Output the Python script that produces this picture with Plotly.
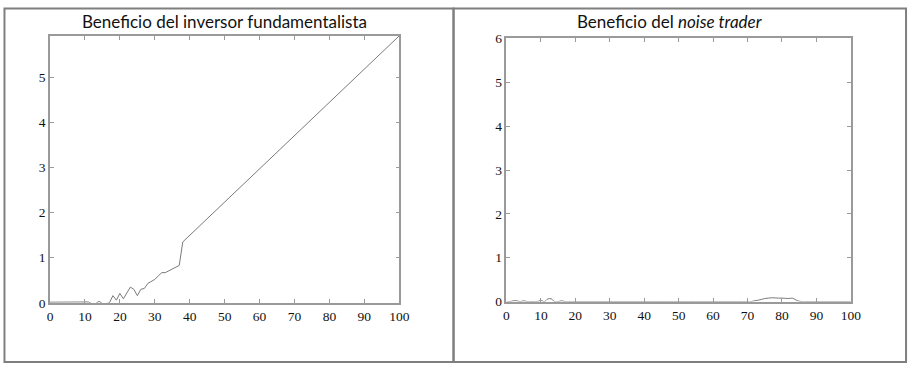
import plotly.graph_objects as go

W, H = 918, 372

# Left chart: profit of the fundamentalist investor
x_fund = list(range(0, 39)) + [100]
y_fund = [0.015, 0.015, 0.015, 0.015, 0.015, 0.015, 0.015, 0.015, 0.015, 0.015,
          0.015, 0.02, -0.02, -0.02, 0.035, -0.015, -0.015, 0.0, 0.16, 0.06,
          0.21, 0.09, 0.22, 0.35, 0.3, 0.16, 0.3, 0.32, 0.43, 0.48,
          0.52, 0.6, 0.67, 0.67, 0.71, 0.74, 0.79, 0.83, 1.35, 5.92]

# Right chart: profit of the noise trader
x_noise = [0, 1, 2, 3, 4, 5, 6, 7, 8, 9, 10, 11, 12, 13, 14, 15, 16, 17, 18,
           70, 71, 72, 73, 74, 75, 76, 77, 78, 79, 80, 81, 82, 83, 84, 85, 86, 87, 100]
y_noise = [0.0, 0.0, 0.02, 0.02, 0.0, 0.02, 0.0, 0.0, 0.0, 0.0, 0.03, 0.0, 0.06, 0.065, 0.0, 0.0, 0.02, 0.0, 0.0,
           0.0, 0.0, 0.02, 0.03, 0.05, 0.07, 0.08, 0.087, 0.085, 0.08, 0.08, 0.075, 0.07, 0.08, 0.04, 0.01, 0.0, 0.0, 0.0]

x_ticks = [0, 10, 20, 30, 40, 50, 60, 70, 80, 90, 100]
y_ticks = [0, 1, 2, 3, 4, 5, 6]

line_color = "#7a7a7a"
axis_color = "#9a9a9a"
tick_font = dict(family="Liberation Serif, DejaVu Serif, serif", size=13.5, color="#111")

fig = go.Figure()
fig.add_trace(go.Scatter(x=x_fund, y=y_fund, mode="lines",
                         line=dict(color=line_color, width=1), xaxis="x", yaxis="y",
                         showlegend=False, hoverinfo="skip"))
fig.add_trace(go.Scatter(x=x_noise, y=y_noise, mode="lines", line_shape="spline",
                         line=dict(color=line_color, width=1), xaxis="x2", yaxis="y2",
                         showlegend=False, hoverinfo="skip"))

def xax(d0, d1, anchor):
    return dict(domain=[d0 / W, d1 / W], range=[0, 100], tickvals=x_ticks,
                showgrid=False, zeroline=False, showline=True, linecolor=axis_color,
                linewidth=1.5, mirror="ticks", ticks="inside", ticklen=4,
                tickcolor=axis_color, tickfont=tick_font, anchor=anchor, fixedrange=True)

def yax(top_px, bot_px, rmax, anchor):
    return dict(domain=[(H - bot_px) / H, (H - top_px) / H], range=[0, rmax],
                tickvals=y_ticks, showgrid=False, zeroline=False, showline=True,
                linecolor=axis_color, linewidth=1.5, mirror="ticks", ticks="inside",
                ticklen=4, tickcolor=axis_color, tickfont=tick_font, anchor=anchor,
                fixedrange=True)

fig.update_layout(
    width=W, height=H,
    margin=dict(l=0, r=0, t=0, b=0),
    paper_bgcolor="white", plot_bgcolor="white",
    xaxis=xax(47.7, 402, "y"),
    yaxis=yax(30, 308.3, 5.92, "x"),
    xaxis2=xax(510.7, 860, "y2"),
    yaxis2=yax(32.7, 307, 6, "x2"),
)

# Panel frames
border = dict(color="#7f7f7f", width=2)
fig.add_shape(type="rect", xref="paper", yref="paper",
              x0=1.5 / W, x1=457 / W, y0=1 - 370 / H, y1=1 - 1.5 / H, line=border)
fig.add_shape(type="rect", xref="paper", yref="paper",
              x0=457 / W, x1=916 / W, y0=1 - 370 / H, y1=1 - 1.5 / H, line=border)

title_font = dict(family="Lato, Open Sans, sans-serif", size=17, color="#111")
fig.add_annotation(text="Beneficio del inversor fundamentalista", xref="paper", yref="paper",
                   x=225 / W, y=1 - 15.5 / H, showarrow=False, font=title_font,
                   xanchor="center", yanchor="middle")
fig.add_annotation(text="Beneficio del <i>noise trader</i>", xref="paper", yref="paper",
                   x=677 / W, y=1 - 15.5 / H, showarrow=False, font=title_font,
                   xanchor="center", yanchor="middle")

fig.write_html("out.html")
